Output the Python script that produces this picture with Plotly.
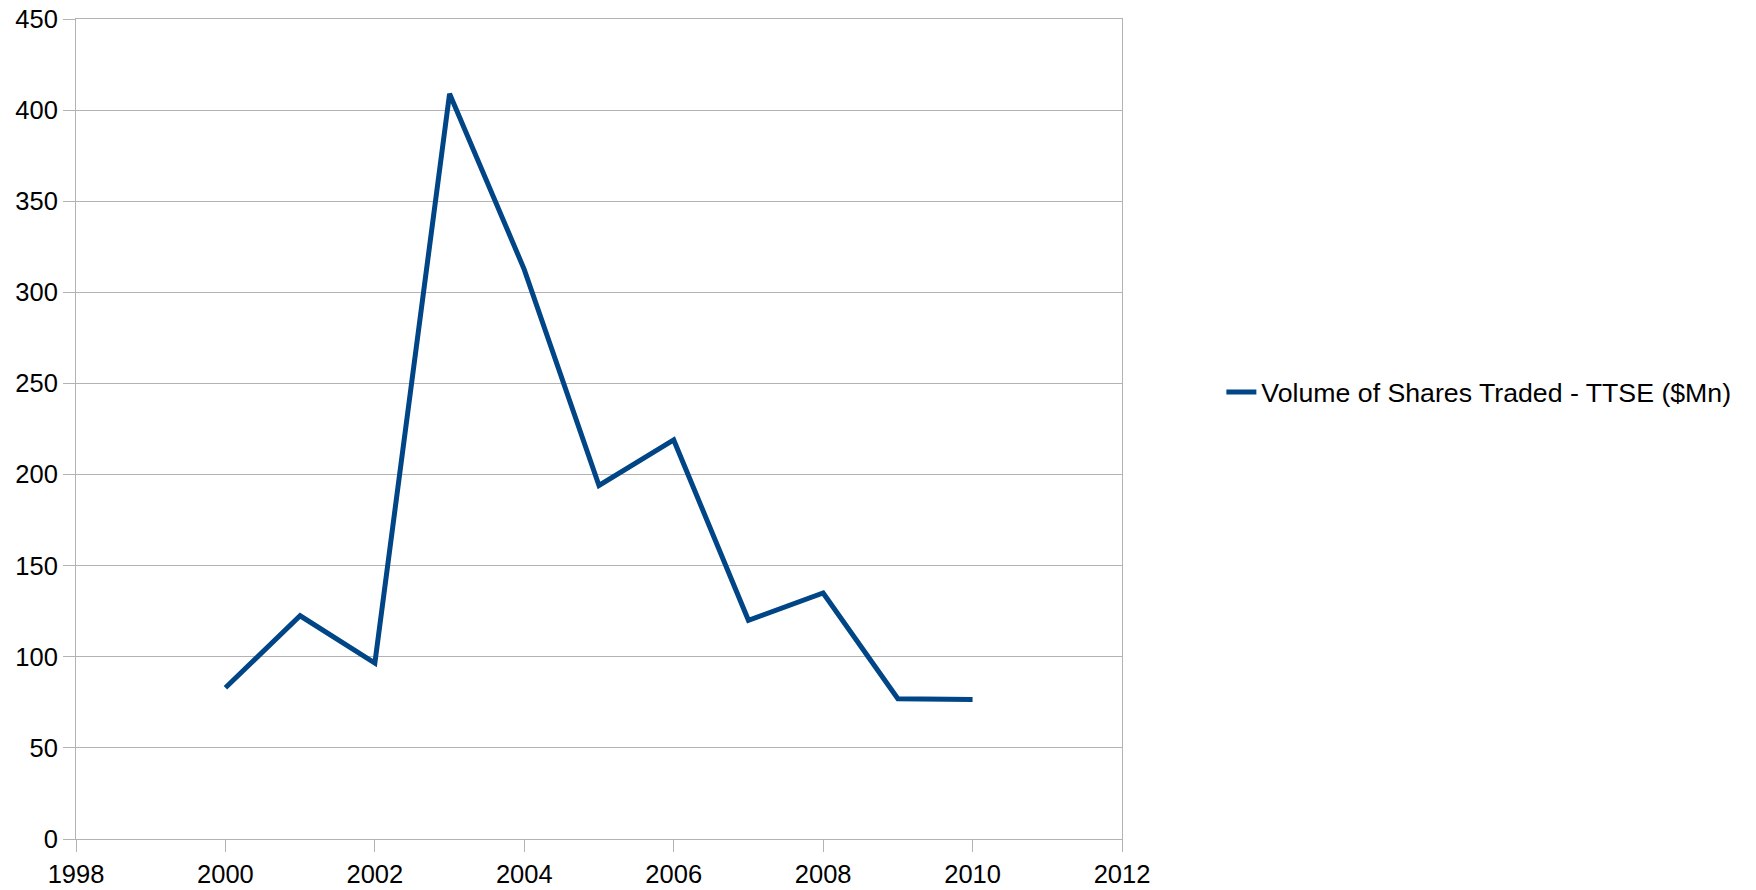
import plotly.graph_objects as go

# Annual volume of shares traded on the TTSE, in $Mn
years = [2000, 2001, 2002, 2003, 2004, 2005, 2006, 2007, 2008, 2009, 2010]
volume = [83, 122.5, 96.5, 409, 312.5, 194, 219, 120, 135, 77, 76.5]
series_name = "Volume of Shares Traded - TTSE ($Mn)"

x_ticks = [1998, 2000, 2002, 2004, 2006, 2008, 2010, 2012]
y_ticks = [0, 50, 100, 150, 200, 250, 300, 350, 400, 450]

grey = "#b3b3b3"
family = "Liberation Sans, Arial, sans-serif"
tick_font = dict(family=family, size=25.5, color="#000000")
legend_font = dict(family=family, size=26.7, color="#000000")

fig = go.Figure()
fig.add_trace(go.Scatter(
    x=years, y=volume, mode="lines", name=series_name,
    line=dict(color="#004586", width=5),
    showlegend=True,
))

fig.update_layout(
    width=1756, height=890,
    margin=dict(l=76, r=634, t=19, b=51),
    paper_bgcolor="#ffffff", plot_bgcolor="#ffffff",
    font=tick_font,
    showlegend=True,
    legend=dict(x=1.095, y=0.545, xanchor="left", yanchor="middle",
                font=legend_font, bgcolor="rgba(0,0,0,0)", itemwidth=30),
    xaxis=dict(
        range=[1998, 2012], tickvals=x_ticks, ticktext=[str(v) for v in x_ticks],
        showgrid=False, zeroline=False, automargin=False,
        showline=True, linecolor=grey, linewidth=1, mirror=True,
        ticks="outside", ticklen=12, tickcolor=grey, tickwidth=1,
        tickfont=tick_font,
    ),
    yaxis=dict(
        range=[0, 450], tickvals=y_ticks, ticktext=[str(v) for v in y_ticks],
        showgrid=True, gridcolor=grey, gridwidth=1, zeroline=False, automargin=False,
        showline=True, linecolor=grey, linewidth=1, mirror=True,
        ticks="outside", ticklen=12, tickcolor=grey, tickwidth=1,
        tickfont=tick_font,
    ),
)

fig.write_html("out.html")
